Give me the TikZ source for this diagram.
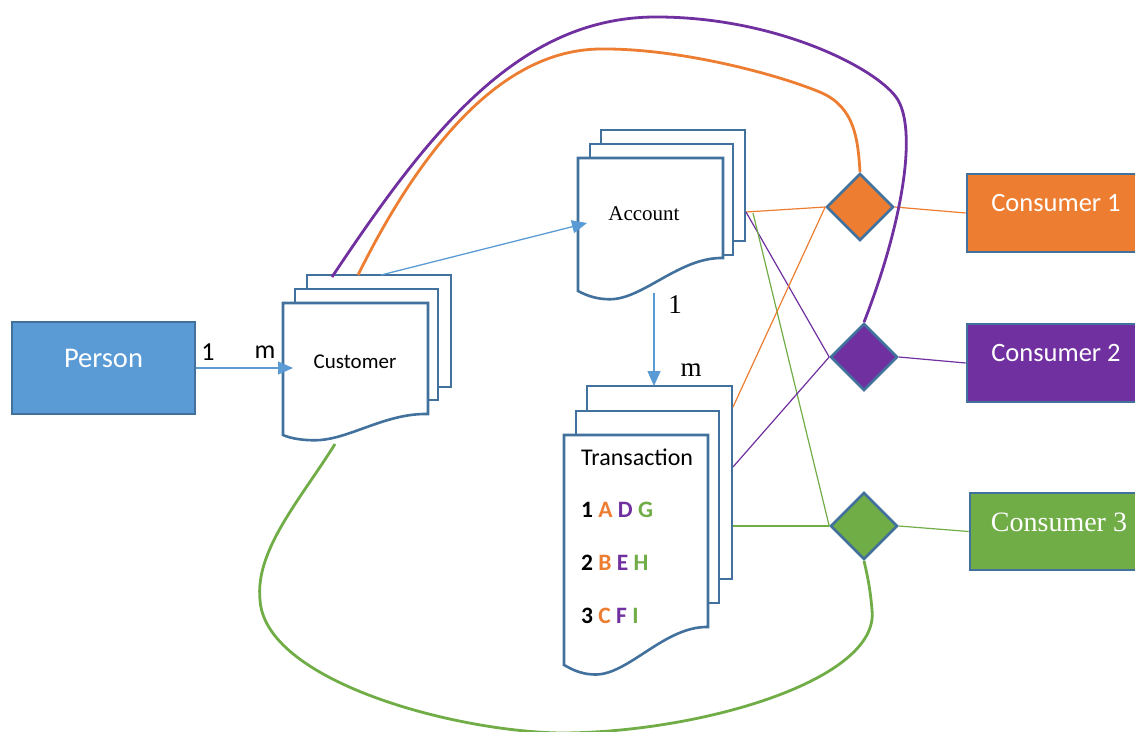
\documentclass[tikz,border=0pt]{standalone}
\usepackage{fontspec}
\setmainfont{Liberation Serif}
\newfontfamily\calibri{Carlito}
\usetikzlibrary{shapes.geometric,arrows.meta,calc}
\definecolor{docblue}{HTML}{41719C}
\definecolor{lblue}{HTML}{5B9BD5}
\definecolor{corange}{HTML}{ED7D31}
\definecolor{cpurple}{HTML}{7030A0}
\definecolor{cgreen}{HTML}{70AD47}
\newcommand{\docpage}[5]{%
  \draw[docline,fill=white] (#1,#5) -- (#1,#2) -- (#3,#2) -- (#3,#4)
    .. controls ({#3-0.3*(#3-#1)},{#4-1}) and ({#1+0.45*(#3-#1)},{#5+0.25*(#5-#4)}) ..
    ({#1+0.22*(#3-#1)},{#5+0.25*(#5-#4)})
    .. controls ({#1+0.1*(#3-#1)},{#5+0.25*(#5-#4)}) and ({#1+0.03*(#3-#1)},{#5+2}) ..
    (#1,#5) -- cycle;}
\newcommand{\backpage}[4]{\draw[docline,fill=white] (#1,#2) rectangle (#3,#4);}
\begin{document}
\begin{tikzpicture}[x=1pt,y=-1pt,
  docline/.style={draw=docblue,line width=2.6pt,line join=miter},
  box/.style={draw=docblue,line width=2.6pt,rectangle,inner sep=0pt},
  dia/.style={diamond,draw=docblue,line width=2.6pt,minimum size=67pt,inner sep=0pt,aspect=1},
  thin/.style={line width=1.2pt},
  curve/.style={line width=2.8pt},
  blarrow/.style={lblue,line width=1.3pt,-{Triangle[length=15pt,width=13pt]}},
  lab/.style={font=\fontsize{27}{30}\selectfont,inner sep=0pt},
  wtext/.style={text=white,inner sep=0pt}]
\useasboundingbox (0,0) rectangle (1135,731);
\clip (0,0) rectangle (1135,731);

% Person
\node[box,fill=lblue,minimum width=183pt,minimum height=92pt,
  label={[wtext,font=\calibri\fontsize{28.5}{30}\selectfont,yshift=10pt]center:Person}] (person) at (103.5,368) {};

% Customer stack
\backpage{307}{275}{451}{387}
\backpage{295}{289}{438}{400}
\docpage{283}{303}{428}{414}{435}
\node[inner sep=0pt,font=\calibri\fontsize{21}{24}\selectfont] (cust) at (355,362) {Customer};
\coordinate (custin) at (293,368);
\coordinate (custtop) at (381,275);
\coordinate (custp) at (332,277);
\coordinate (custo) at (358,275);
\coordinate (custg) at (335,444);

% Account stack
\backpage{601}{130}{745}{241}
\backpage{590}{144}{733}{255}
\docpage{578}{158}{723}{258}{291}
\node[inner sep=0pt,font=\fontsize{21}{24}\selectfont] (acct) at (644,214) {Account};
\coordinate (acctin) at (587,223);
\coordinate (acctbot) at (654,293);
\coordinate (acctr) at (746,212);
\coordinate (acctg) at (753,213);

% Transaction stack
\backpage{587}{386}{732}{579}
\backpage{576}{411}{719}{603}
\docpage{564}{435}{708}{627}{665}
\node[anchor=west,inner sep=0pt,font=\calibri\fontsize{24}{26}\selectfont] (trans) at (581,457) {Transaction};
\node[anchor=west,inner sep=0pt,font=\calibri\bfseries\fontsize{23.5}{26}\selectfont] (row1) at (581,510)
  {1 \textcolor{corange}{A} \textcolor{cpurple}{D} \textcolor{cgreen}{G}};
\node[anchor=west,inner sep=0pt,font=\calibri\bfseries\fontsize{23.5}{26}\selectfont] (row2) at (581,563)
  {2 \textcolor{corange}{B} \textcolor{cpurple}{E} \textcolor{cgreen}{H}};
\node[anchor=west,inner sep=0pt,font=\calibri\bfseries\fontsize{23.5}{26}\selectfont] (row3) at (581,616)
  {3 \textcolor{corange}{C} \textcolor{cpurple}{F} \textcolor{cgreen}{I}};
\coordinate (transtop) at (654,386);
\coordinate (transo) at (733,407);
\coordinate (transp) at (733,467);
\coordinate (transg) at (733,526);

% Diamonds
\node[dia,fill=corange] (d1) at (860,207) {};
\node[dia,fill=cpurple] (d2) at (864,357) {};
\node[dia,fill=cgreen] (d3) at (864,526) {};

% Consumers
\node[box,fill=corange,minimum width=178pt,minimum height=78pt,
  label={[wtext,font=\calibri\fontsize{26.5}{30}\selectfont,yshift=10pt]center:Consumer 1}] (c1) at (1056,213) {};
\node[box,fill=cpurple,minimum width=178pt,minimum height=78pt,
  label={[wtext,font=\calibri\fontsize{26.5}{30}\selectfont,yshift=10pt]center:Consumer 2}] (c2) at (1056,363) {};
\node[box,fill=cgreen,minimum width=178pt,minimum height=77pt,
  label={[wtext,font=\fontsize{28}{30}\selectfont,yshift=9.5pt]center:Consumer 3}] (c3) at (1059,531.5) {};

% Arrows
\draw[blarrow] (person.east |- custin) -- (custin);
\node[lab,font=\calibri\fontsize{26}{30}\selectfont] (l1) at (208,352) {1};
\node[lab,font=\calibri\fontsize{26}{30}\selectfont] (lm) at (265,352) {m};
\draw[blarrow] (custtop) -- (acctin);
\draw[blarrow] (acctbot) -- (transtop);
\node[lab] (l2) at (675,305) {1};
\node[lab] (l3) at (691,370) {m};

% Thin connectors
\draw[thin,corange] (acctr) -- (d1.west);
\draw[thin,cpurple] (acctr) -- (d2.west);
\draw[thin,cgreen] (acctg) -- (d3.west);
\draw[thin,corange] (transo) -- (d1.west);
\draw[thin,cpurple] (transp) -- (d2.west);
\draw[thin,cgreen] (transg) -- (d3.west);
\draw[thin,corange] (d1.east) -- (c1.west);
\draw[thin,cpurple] (d2.east) -- (c2.west);
\draw[thin,cgreen] (d3.east) -- (c3.west);

% Big curves
\draw[curve,cpurple] (custp) .. controls (430,130) and (520,15) .. (660,17)
  .. controls (780,18) and (880,70) .. (898,100)
  .. controls (918,135) and (900,230) .. (d2.north);
\draw[curve,corange] (custo) .. controls (420,150) and (500,50) .. (600,49)
  .. controls (680,48) and (780,75) .. (822,93)
  .. controls (855,108) and (858,140) .. (d1.north);
\draw[curve,cgreen] (custg) .. controls (300,500) and (255,550) .. (260,600)
  .. controls (265,680) and (450,731) .. (560,733)
  .. controls (700,733) and (880,680) .. (872,610)
  .. controls (870,585) and (866,570) .. (d3.south);
\end{tikzpicture}
\end{document}
